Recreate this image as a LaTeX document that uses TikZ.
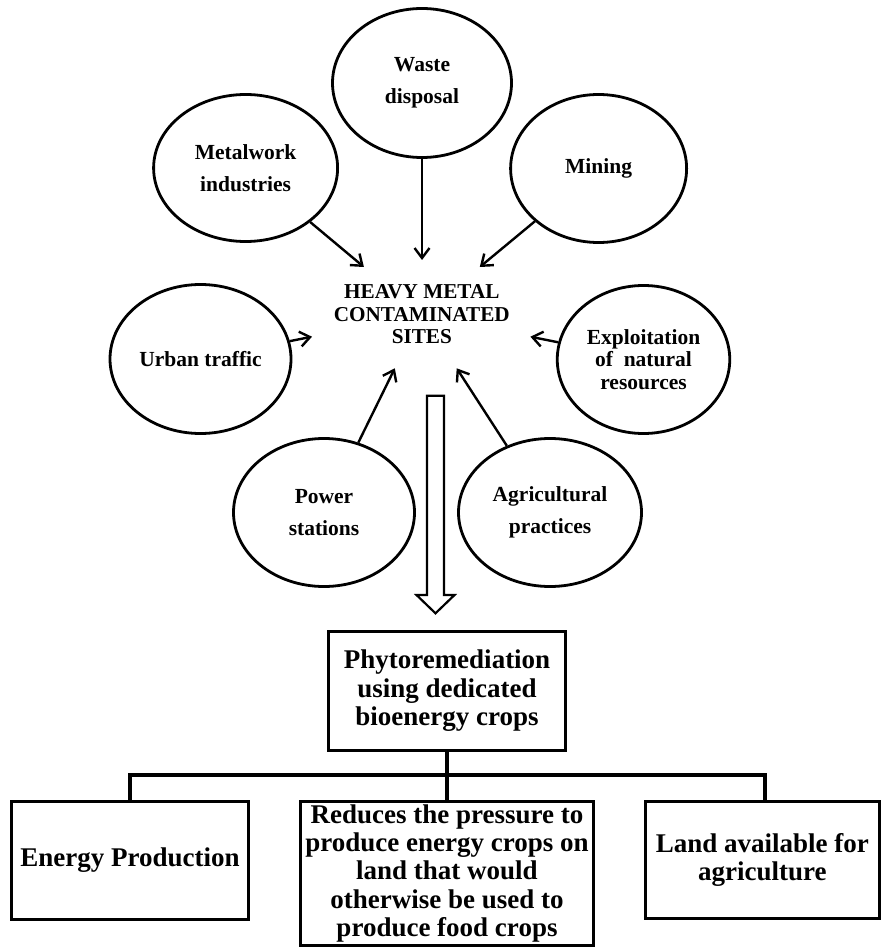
\documentclass[tikz,border=0pt]{standalone}
\usepackage{fontspec}
\setmainfont{Liberation Serif}
\usetikzlibrary{shapes.geometric,arrows.meta,calc}
\tikzset{
  src/.style={ellipse, draw, line width=2.8pt, inner sep=0pt, align=center,
    font=\fontsize{21.5}{31.5}\selectfont\bfseries},
  arr/.style={-{Straight Barb[length=10pt,width=15pt]}, line width=2.4pt},
  box/.style={draw, line width=3.2pt, inner sep=0pt, align=center,
    font=\fontsize{27}{28.4}\selectfont\bfseries},
  bus/.style={line width=3.2pt},
  hollow/.style={draw, line width=2.2pt, fill=white, line join=miter}
}
\begin{document}
\begin{tikzpicture}[x=1pt,y=-1pt]
\useasboundingbox (0,0) rectangle (882,949);
% source ellipses
\node[src, minimum width=179pt, minimum height=149pt] (waste) at (422,83) {Waste\\disposal};
\node[src, minimum width=184pt, minimum height=147pt] (metal) at (245.6,168) {Metalwork\\industries};
\node[src, minimum width=176pt, minimum height=148pt] (mining) at (598.6,168.5) {Mining};
\node[src, minimum width=181pt, minimum height=149pt] (urban) at (200.5,359) {Urban traffic};
\node[src, minimum width=172.5pt, minimum height=148pt,
  font=\fontsize{21.5}{22.5}\selectfont\bfseries] (expl) at (643.5,359.5) {Exploitation\\of~~natural\\resources};
\node[src, minimum width=181pt, minimum height=148pt] (power) at (324,512.5) {Power\\stations};
\node[src, minimum width=183pt, minimum height=148pt] (agri) at (550,512.5) {Agricultural\\practices};
% central text
\node[align=center, inner sep=0pt, font=\fontsize{21.2}{22.5}\selectfont\bfseries] (hm) at (421.8,314.3) {HEAVY METAL\\CONTAMINATED\\SITES};
% arrow targets
\coordinate (t1) at (363.9,267);
\coordinate (t2) at (422,260);
\coordinate (t3) at (479.8,267);
\coordinate (t4) at (312,336.7);
\coordinate (t5) at (530.4,336.7);
\coordinate (t6) at (394.8,368.3);
\coordinate (t7) at (456.7,368.3);
\draw[arr] (metal) -- (t1);
\draw[arr] (waste) -- (t2);
\draw[arr] (mining) -- (t3);
\draw[arr] (urban) -- (t4);
\draw[arr] (expl) -- (t5);
\draw[arr] (power) -- (t6);
\draw[arr] (agri) -- (t7);
% hollow arrow
\coordinate (ha) at (435.5,395.7);
\coordinate (hb) at (435.5,613.3);
\path[hollow] ($(ha)+(-8.5,0)$) -- ($(hb)+(-8.5,-18.3)$) -- ($(hb)+(-19,-18.3)$) -- (hb)
  -- ($(hb)+(19,-18.3)$) -- ($(hb)+(8.5,-18.3)$) -- ($(ha)+(8.5,0)$) -- cycle;
% boxes
\node[box, minimum width=237pt, minimum height=119pt] (phyto) at (447,691) {Phytoremediation\\using dedicated\\bioenergy crops};
\node[box, minimum width=237.7pt, minimum height=117.7pt] (energy) at (130,860.3) {Energy Production};
\node[box, minimum width=293pt, minimum height=143.7pt] (reduce) at (447,873.3) {Reduces the pressure to\\produce energy crops on\\land that would\\otherwise be used to\\produce food crops};
\node[box, minimum width=233.7pt, minimum height=117pt] (land) at (762.3,860) {Land available for\\agriculture};
% tree connectors
\coordinate (busy) at (0,775);
\coordinate (rdrop) at (765,800);
\draw[bus] (phyto.south) -- (phyto.south |- busy);
\draw[bus] (energy.north) -- (energy.north |- busy) -| (rdrop);
\draw[bus] (reduce.north) -- (reduce.north |- busy);
\end{tikzpicture}
\end{document}
